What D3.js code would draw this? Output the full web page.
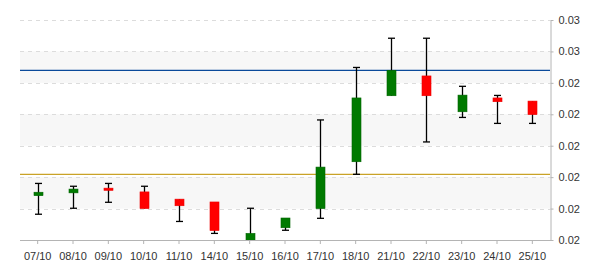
<!DOCTYPE html>
<html lang="en">
<head>
  <meta charset="UTF-8">
  <title>Candlestick</title>
  <script src="https://d3js.org/d3.v7.min.js"></script>
  <style>
    body { margin: 0; background: #fff; font-family: Arial, "Liberation Sans", sans-serif; }
    svg { display: block; }
  </style>
</head>
<body>
<svg width="600" height="270"></svg>
<script>
  // data (values in thousandths)
  const dates = ["07/10","08/10","09/10","10/10","11/10","14/10","15/10","16/10","17/10","18/10","21/10","22/10","23/10","24/10","25/10"];
  const opens  = [20.41, 20.50, 20.65, 20.53, 20.30, 20.21, 18.98, 19.39, 20.00, 21.49, 23.59, 24.22, 23.08, 23.52, 23.42];
  const closes = [20.52, 20.62, 20.58, 20.00, 20.09, 19.30, 19.21, 19.70, 21.32, 23.52, 24.40, 23.59, 23.61, 23.40, 22.99];
  const highs  = [20.80, 20.71, 20.80, 20.71, 20.30, 20.21, 20.01, 19.70, 22.82, 24.49, 25.42, 25.42, 23.89, 23.60, 23.42];
  const lows   = [19.82, 20.01, 20.20, 20.00, 19.59, 19.21, 18.98, 19.31, 19.69, 21.09, 23.59, 22.12, 22.90, 22.71, 22.71];
  const tickValues = [19, 20, 21, 22, 23, 24, 25, 26];
  const tickLabels = ["0.02","0.02","0.02","0.02","0.02","0.02","0.03","0.03"];
  const upperLine = 24.40;
  const lowerLine = 21.09;

  const mLeft = 20, mRight = 550, mTop = 20, mBottom = 240;
  const svg = d3.select("svg");

  const x = d3.scaleBand().domain(dates).range([mLeft, mRight]);
  const y = d3.scaleLinear().domain([19, 26]).range([mBottom, mTop]);

  const plot = svg.append("g");
  svg.append("defs").append("clipPath").attr("id", "clip")
    .append("rect").attr("x", mLeft).attr("y", mTop).attr("width", mRight - mLeft).attr("height", mBottom - mTop);

  // alternating bands
  plot.selectAll("rect.band")
    .data(d3.range(tickValues.length - 1).filter(i => i % 2 === 1))
    .join("rect")
    .attr("x", mLeft).attr("width", mRight - mLeft)
    .attr("y", i => y(tickValues[i + 1]))
    .attr("height", i => y(tickValues[i]) - y(tickValues[i + 1]))
    .attr("fill", "#f7f7f7");

  // grid lines
  plot.selectAll("line.grid")
    .data(tickValues.slice(1))
    .join("line")
    .attr("x1", mLeft).attr("x2", mRight)
    .attr("y1", d => Math.round(y(d)) + 0.5).attr("y2", d => Math.round(y(d)) + 0.5)
    .attr("stroke", "#dcdcdc").attr("stroke-dasharray", "4,4");

  // reference lines
  plot.append("line")
    .attr("x1", mLeft).attr("x2", mRight)
    .attr("y1", y(upperLine)).attr("y2", y(upperLine))
    .attr("stroke", "#0a4a9a").attr("stroke-width", 1.2);
  plot.append("line")
    .attr("x1", mLeft).attr("x2", mRight)
    .attr("y1", y(lowerLine)).attr("y2", y(lowerLine))
    .attr("stroke", "#c9a227").attr("stroke-width", 1.2);

  const candles = dates.map((d, i) => ({ d, o: opens[i], c: closes[i], h: highs[i], l: lows[i] }));
  const cg = svg.append("g").attr("clip-path", "url(#clip)");
  const cx = d => Math.round(x(d.d) + x.bandwidth() / 2) + 0.5;

  const candle = cg.selectAll("g.candle").data(candles).join("g");
  candle.append("line")
    .attr("x1", cx).attr("x2", cx)
    .attr("y1", d => y(d.h)).attr("y2", d => y(d.l))
    .attr("stroke", "#000").attr("stroke-width", 1.3);
  candle.filter(d => y(d.h) < y(Math.max(d.o, d.c)) - 0.5).append("line")
    .attr("x1", d => cx(d) - 3.5).attr("x2", d => cx(d) + 3.5)
    .attr("y1", d => y(d.h)).attr("y2", d => y(d.h))
    .attr("stroke", "#000").attr("stroke-width", 1.3);
  candle.filter(d => y(d.l) > y(Math.min(d.o, d.c)) + 0.5).append("line")
    .attr("x1", d => cx(d) - 3.5).attr("x2", d => cx(d) + 3.5)
    .attr("y1", d => y(d.l)).attr("y2", d => y(d.l))
    .attr("stroke", "#000").attr("stroke-width", 1.3);
  candle.append("rect")
    .attr("x", d => cx(d) - 4.5).attr("width", 9)
    .attr("y", d => y(Math.max(d.o, d.c)))
    .attr("height", d => Math.max(2, y(Math.min(d.o, d.c)) - y(Math.max(d.o, d.c))))
    .attr("fill", d => d.c >= d.o ? "#007a00" : "#ff0000")
    .attr("stroke", d => d.c >= d.o ? "#006400" : "#ee0000")
    .attr("stroke-width", 0.6);

  // x axis
  const xAxis = svg.append("g")
    .attr("transform", `translate(0,${mBottom})`)
    .call(d3.axisBottom(x).tickSize(4).tickSizeOuter(0));
  xAxis.select(".domain").attr("stroke", "#b4b4b4").attr("d", `M${mLeft},0.5H${mRight + 3}`);
  xAxis.selectAll(".tick line").attr("stroke", "#b4b4b4");
  xAxis.selectAll("text").attr("fill", "#333").attr("font-size", 11).attr("dy", "1.2em")
    .attr("font-family", "Arial, 'Liberation Sans', sans-serif");

  // y axis
  const yAxis = svg.append("g")
    .attr("transform", `translate(${mRight + 0.5},0)`)
    .call(d3.axisRight(y).tickValues(tickValues).tickSize(3).tickSizeOuter(0)
      .tickFormat((d, i) => tickLabels[i]));
  yAxis.select(".domain").attr("stroke", "#b4b4b4");
  yAxis.selectAll(".tick line").attr("stroke", "#b4b4b4");
  yAxis.selectAll("text").attr("fill", "#333").attr("font-size", 11).attr("x", 8)
    .attr("font-family", "Arial, 'Liberation Sans', sans-serif");
</script>
</body>
</html>
